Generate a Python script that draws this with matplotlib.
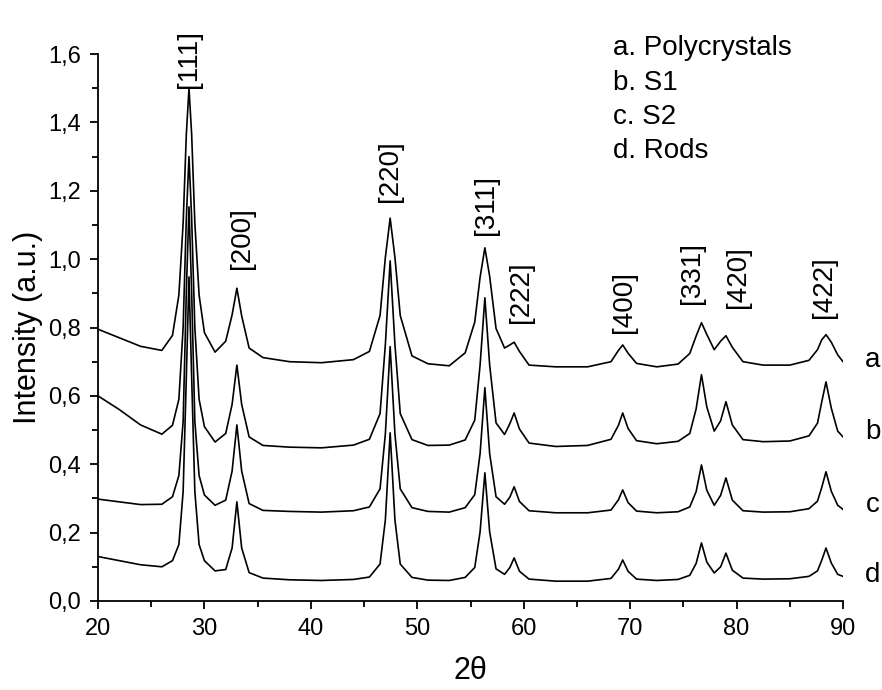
import matplotlib
matplotlib.use("Agg")
import matplotlib.pyplot as plt
from matplotlib.ticker import MultipleLocator

plt.rcParams["font.family"] = ["Liberation Sans", "DejaVu Sans"]

# 2theta sampling positions (shared by all four patterns)
two_theta = [20, 22, 24, 26, 27, 27.6, 28.0, 28.3, 28.55, 28.8, 29.1, 29.5, 30.0, 31.0,
             32.0, 32.6, 33.05, 33.5, 34.2, 35.5, 38, 41, 44, 45.5, 46.5, 47.0, 47.45,
             47.9, 48.4, 49.5, 51, 53, 54.5, 55.4, 55.9, 56.35, 56.8, 57.4, 58.2, 58.7,
             59.1, 59.6, 60.5, 63, 66, 68.2, 68.9, 69.3, 69.8, 70.6, 72.5, 74.5, 75.6,
             76.2, 76.7, 77.2, 77.9, 78.5, 79.0, 79.6, 80.6, 82.5, 85, 86.8, 87.6, 88.0,
             88.4, 88.9, 89.5, 90]

# a. Polycrystals
int_a = [0.795, 0.770, 0.745, 0.733, 0.777, 0.895, 1.105, 1.365, 1.500, 1.365, 1.105, 0.895,
         0.785, 0.728, 0.760, 0.837, 0.915, 0.834, 0.740, 0.712, 0.700, 0.697, 0.706, 0.730,
         0.835, 1.005, 1.120, 1.005, 0.835, 0.717, 0.694, 0.688, 0.726, 0.816, 0.947, 1.033,
         0.950, 0.797, 0.740, 0.749, 0.757, 0.730, 0.690, 0.685, 0.685, 0.700, 0.733, 0.749,
         0.725, 0.695, 0.685, 0.693, 0.724, 0.775, 0.814, 0.780, 0.735, 0.760, 0.776, 0.742,
         0.700, 0.690, 0.690, 0.704, 0.735, 0.764, 0.779, 0.757, 0.720, 0.700]
# b. S1
int_b = [0.600, 0.560, 0.515, 0.488, 0.514, 0.590, 0.800, 1.120, 1.300, 1.120, 0.800, 0.590,
         0.510, 0.465, 0.490, 0.575, 0.690, 0.575, 0.480, 0.455, 0.450, 0.448, 0.456, 0.473,
         0.548, 0.750, 0.995, 0.750, 0.548, 0.472, 0.455, 0.456, 0.471, 0.529, 0.690, 0.887,
         0.690, 0.521, 0.487, 0.519, 0.550, 0.503, 0.462, 0.452, 0.455, 0.473, 0.514, 0.550,
         0.505, 0.469, 0.460, 0.467, 0.490, 0.562, 0.662, 0.568, 0.497, 0.527, 0.583, 0.515,
         0.472, 0.466, 0.468, 0.483, 0.520, 0.582, 0.641, 0.564, 0.497, 0.480]
# c. S2
int_c = [0.298, 0.290, 0.282, 0.283, 0.305, 0.367, 0.525, 0.904, 1.153, 0.904, 0.525, 0.367,
         0.310, 0.280, 0.295, 0.380, 0.515, 0.380, 0.285, 0.265, 0.262, 0.260, 0.264, 0.275,
         0.328, 0.488, 0.744, 0.488, 0.328, 0.273, 0.262, 0.260, 0.273, 0.311, 0.431, 0.624,
         0.431, 0.305, 0.283, 0.304, 0.334, 0.291, 0.264, 0.258, 0.258, 0.266, 0.296, 0.325,
         0.288, 0.263, 0.258, 0.261, 0.275, 0.320, 0.398, 0.324, 0.280, 0.309, 0.360, 0.295,
         0.264, 0.260, 0.261, 0.270, 0.292, 0.332, 0.378, 0.321, 0.280, 0.268]
# d. Rods
int_d = [0.130, 0.118, 0.106, 0.100, 0.118, 0.165, 0.320, 0.655, 0.948, 0.655, 0.320, 0.165,
         0.118, 0.088, 0.092, 0.155, 0.290, 0.155, 0.083, 0.067, 0.062, 0.060, 0.063, 0.070,
         0.108, 0.237, 0.492, 0.237, 0.108, 0.069, 0.061, 0.060, 0.069, 0.098, 0.202, 0.375,
         0.202, 0.094, 0.078, 0.098, 0.126, 0.087, 0.064, 0.058, 0.058, 0.066, 0.093, 0.120,
         0.087, 0.064, 0.060, 0.063, 0.075, 0.110, 0.170, 0.114, 0.082, 0.100, 0.140, 0.090,
         0.067, 0.064, 0.065, 0.072, 0.088, 0.119, 0.155, 0.111, 0.078, 0.072]

# reflection labels and where they sit
hkl = ["[111]", "[200]", "[220]", "[311]", "[222]", "[400]", "[331]", "[420]", "[422]"]
hkl_x = [28.55, 33.5, 47.45, 56.45, 59.75, 69.45, 75.85, 80.1, 88.2]
hkl_y = [1.50, 0.97, 1.168, 1.07, 0.813, 0.784, 0.869, 0.857, 0.828]

curve_tags = ["a", "b", "c", "d"]
tag_y = [0.705, 0.495, 0.281, 0.076]
legend_lines = ["a. Polycrystals", "b. S1", "c. S2", "d. Rods"]

y_ticks = [0.0, 0.2, 0.4, 0.6, 0.8, 1.0, 1.2, 1.4, 1.6]
y_tick_labels = ["0,0", "0,2", "0,4", "0,6", "0,8", "1,0", "1,2", "1,4", "1,6"]
x_ticks = [20, 30, 40, 50, 60, 70, 80, 90]

fig = plt.figure(figsize=(8.82, 6.90), dpi=100)
ax = fig.add_axes([0.1111, 0.129, 0.8447, 0.7927])

for y in [int_a, int_b, int_c, int_d]:
    ax.plot(two_theta, y, color="black", lw=1.2)

ax.set_xlim(20, 90)
ax.set_ylim(0, 1.6)
ax.set_xticks(x_ticks)
ax.set_yticks(y_ticks)
ax.set_yticklabels(y_tick_labels)
ax.xaxis.set_minor_locator(MultipleLocator(5))
ax.yaxis.set_minor_locator(MultipleLocator(0.1))
ax.tick_params(which="major", direction="out", length=6, width=1.3, labelsize=17, pad=6)
ax.tick_params(which="minor", direction="out", length=4, width=1.3)
for s in ["top", "right"]:
    ax.spines[s].set_visible(False)
for s in ["left", "bottom"]:
    ax.spines[s].set_linewidth(1.3)

ax.set_ylabel("Intensity (a.u.)", fontsize=22, labelpad=4)
ax.set_xlabel("2θ", fontsize=22, labelpad=12)

for lab, x, y in zip(hkl, hkl_x, hkl_y):
    ax.text(x, y, lab, rotation=90, ha="center", va="bottom", fontsize=20)

for t, y in zip(curve_tags, tag_y):
    ax.text(92.8, y, t, ha="center", va="center", fontsize=20, clip_on=False)

for i, line in enumerate(legend_lines):
    fig.text(613 / 882, 1 - (48 + 34.5 * i) / 690, line, ha="left", va="center", fontsize=20)

fig.savefig("out.png", dpi=100)
